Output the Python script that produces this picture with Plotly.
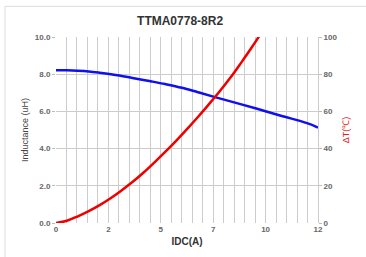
import plotly.graph_objects as go

# Inductance vs current
idc_L = [0, 0.5, 1.0, 1.5, 2.0, 2.9, 3.5, 4.34, 5.0, 5.77, 6.5, 7.28, 8.2, 9.13, 10.3, 11.5, 12.0]
inductance = [8.21, 8.21, 8.19, 8.15, 8.08, 7.93, 7.80, 7.62, 7.47, 7.27, 7.03, 6.77, 6.47, 6.17, 5.77, 5.37, 5.13]

# Temperature rise vs current
idc_T = [0, 0.5, 1.0, 1.5, 2.0, 2.5, 3.0, 3.5, 4.0, 4.5, 5.0, 5.5, 6.0, 6.5, 7.0, 7.5, 8.0, 8.5, 9.0, 9.5]
delta_t = [0, 1.2, 3.6, 6.4, 9.6, 13.3, 17.5, 22.0, 27.0, 32.5, 38.2, 44.2, 50.5, 57.0, 63.8, 70.8, 78.3, 86.5, 95.0, 104.0]

x_tickvals = [0, 2.4, 4.8, 7.2, 9.6, 12]
x_ticktext = ["0", "2", "5", "7", "10", "12"]
yl_tickvals = [0, 2, 4, 6, 8, 10]
yl_ticktext = ["0.0", "2.0", "4.0", "6.0", "8.0", "10.0"]
yr_tickvals = [0, 20, 40, 60, 80, 100]

FONT = "Liberation Sans, Arial, sans-serif"
tickfont = dict(family=FONT, size=8, color="#666666", weight="bold")

fig = go.Figure()
fig.add_trace(go.Scatter(x=idc_L, y=inductance, mode="lines", line=dict(color="#1010ee", width=2.5, shape="spline"),
                         showlegend=False, hoverinfo="skip"))
fig.add_trace(go.Scatter(x=idc_T, y=delta_t, mode="lines", line=dict(color="#ee0000", width=2.5, shape="spline"),
                         yaxis="y2", showlegend=False, hoverinfo="skip"))

fig.update_layout(
    width=366, height=257,
    margin=dict(l=56, r=48, t=37, b=32),
    paper_bgcolor="white", plot_bgcolor="white",
    title=dict(text="<b>TTMA0778-8R2</b>", x=0.492, xanchor="center", y=1 - 21 / 257, yanchor="middle",
               font=dict(family=FONT, size=12, color="#333333")),
    xaxis=dict(range=[0, 12], tickvals=x_tickvals, ticktext=x_ticktext, tickfont=tickfont,
               showgrid=True, gridcolor="#cccccc", gridwidth=1, zeroline=False, showline=False,
               ticks="", minor=dict(dtick=0.48, tick0=0, showgrid=True, gridcolor="#cccccc", gridwidth=1),
               title=dict(text="<b>IDC(A)</b>", font=dict(family=FONT, size=10, color="#333333"), standoff=4)),
    yaxis=dict(range=[0, 10], tickvals=yl_tickvals, ticktext=yl_ticktext, tickfont=tickfont,
               showgrid=True, gridcolor="#cccccc", gridwidth=1, zeroline=False, showline=False,
               ticks="outside", ticklen=3, tickcolor="#bbbbbb",
               title=dict(text="Inductance (uH)", font=dict(family=FONT, size=9, color="#444444"), standoff=4)),
    yaxis2=dict(range=[0, 100], tickvals=yr_tickvals, tickfont=tickfont, overlaying="y", side="right",
                showgrid=False, zeroline=False, showline=True, linecolor="#cccccc",
                ticks="outside", ticklen=3, tickcolor="#bbbbbb",
                title=dict(text="ΔT(℃)", font=dict(family=FONT, size=9, color="#dd2222"), standoff=6)),
    shapes=[
        dict(type="line", xref="paper", yref="paper", x0=(5 - 56) / 262, x1=1.3, y0=1 + 31 / 188, y1=1 + 31 / 188,
             line=dict(color="#dddddd", width=1)),
        dict(type="line", xref="paper", yref="paper", x0=(5 - 56) / 262, x1=(5 - 56) / 262, y0=1 + 31 / 188, y1=-0.3,
             line=dict(color="#dddddd", width=1)),
    ],
)

fig.write_html("out.html", config={"displayModeBar": False},
               post_script="document.body.style.margin='0';document.body.style.overflow='hidden';")
